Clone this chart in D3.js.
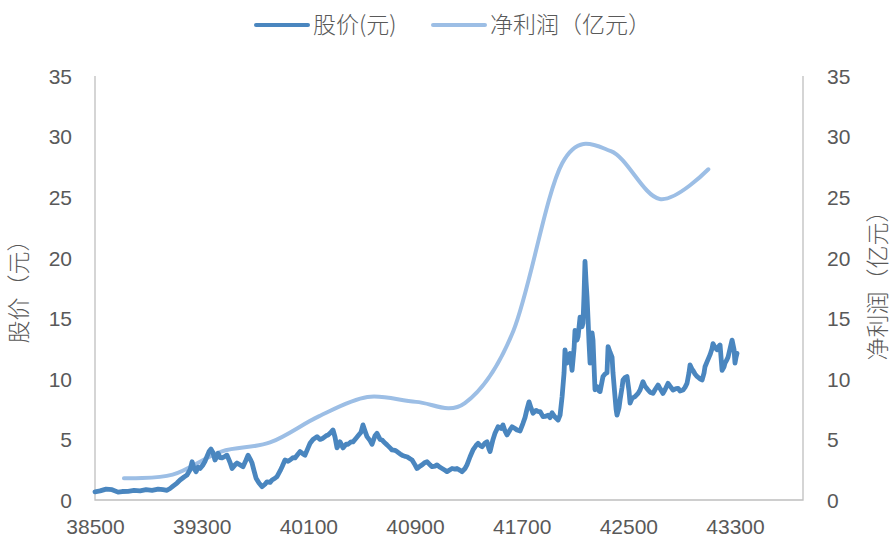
<!DOCTYPE html>
<html>
<head>
<meta charset="utf-8">
<script src="https://cdn.jsdelivr.net/npm/d3@7"></script>
<style>
  html, body { margin: 0; padding: 0; background: #fff; }
  svg { display: block; }
  .tick-label { font-family: "Liberation Sans", "DejaVu Sans", sans-serif; font-size: 21px; fill: #595959; }
  .cjk { font-family: "Noto Sans CJK SC", "Noto Sans", sans-serif; font-weight: 300; fill: #595959; }
</style>
</head>
<body>
<svg id="chart" width="895" height="541"></svg>
<script>
// Daily close, sampled (Excel date serial -> price in yuan)
const priceDates = [
  38500, 38538, 38583, 38628, 38673, 38703, 38748, 38793, 38838, 38883, 38928, 38973, 39010, 39040,
  39063, 39085, 39115, 39138, 39168, 39190, 39213, 39228, 39243, 39258, 39273, 39288, 39310, 39325,
  39340, 39355, 39370, 39385, 39400, 39415, 39423, 39438, 39453, 39475, 39490, 39513, 39528, 39550,
  39565, 39588, 39610, 39633, 39648, 39663, 39678, 39693, 39708, 39730, 39753, 39775, 39790, 39813,
  39828, 39850, 39865, 39888, 39903, 39925, 39948, 39963, 39985, 40000, 40023, 40038, 40060, 40075,
  40098, 40113, 40135, 40165, 40188, 40210, 40233, 40248, 40270, 40285, 40300, 40315, 40338, 40360,
  40383, 40398, 40420, 40435, 40458, 40473, 40495, 40510, 40525, 40540, 40563, 40578, 40600, 40615,
  40638, 40653, 40675, 40690, 40713, 40728, 40750, 40765, 40788, 40803, 40825, 40840, 40863, 40878,
  40900, 40915, 40938, 40953, 40975, 40990, 41013, 41028, 41050, 41065, 41088, 41103, 41125, 41140,
  41163, 41178, 41200, 41215, 41238, 41253, 41275, 41290, 41313, 41335, 41358, 41373, 41388, 41403,
  41425, 41440, 41455, 41463, 41485, 41500, 41523, 41545, 41560, 41575, 41590, 41613, 41628, 41650,
  41665, 41688, 41710, 41725, 41740, 41755, 41770, 41785, 41808, 41823, 41838, 41860, 41875, 41898,
  41913, 41928, 41950, 41973, 41988, 42003, 42018, 42025, 42040, 42048, 42063, 42078, 42093, 42100,
  42115, 42123, 42138, 42153, 42160, 42168, 42175, 42183, 42190, 42198, 42205, 42213, 42220, 42228,
  42235, 42243, 42250, 42265, 42280, 42288, 42303, 42310, 42325, 42340, 42348, 42363, 42378, 42385,
  42400, 42408, 42415, 42430, 42438, 42453, 42460, 42475, 42490, 42505, 42513, 42528, 42550, 42573,
  42588, 42610, 42625, 42648, 42663, 42685, 42700, 42723, 42738, 42760, 42775, 42798, 42813, 42835,
  42858, 42873, 42888, 42910, 42925, 42940, 42955, 42963, 42978, 42985, 43000, 43015, 43038, 43053,
  43068, 43075, 43090, 43113, 43128, 43135, 43150, 43165, 43180, 43188, 43203, 43218, 43225, 43240,
  43248, 43263, 43278, 43293, 43300, 43308, 43315
];
const priceValues = [
  0.68, 0.75, 0.9, 0.85, 0.65, 0.7, 0.72, 0.8, 0.75, 0.85, 0.8, 0.9, 0.85, 0.8,
  0.95, 1.15, 1.4, 1.65, 1.9, 2.06, 2.5, 3.16, 2.6, 2.34, 2.7, 2.6, 2.9, 3.2,
  3.6, 4.0, 4.2, 3.9, 3.3, 3.6, 3.86, 3.5, 3.47, 3.6, 3.7, 3.1, 2.6, 2.9,
  3.05, 2.9, 2.75, 3.3, 3.7, 3.4, 3.05, 2.4, 1.8, 1.4, 1.1, 1.3, 1.5, 1.45,
  1.65, 1.8, 1.93, 2.4, 2.75, 3.3, 3.2, 3.3, 3.5, 3.47, 3.8, 4.0, 3.8, 3.7,
  4.3, 4.68, 5.0, 5.23, 5.0, 5.1, 5.3, 5.37, 5.6, 5.78, 5.2, 4.3, 4.8, 4.3,
  4.6, 4.6, 4.8, 4.8, 5.1, 5.3, 5.6, 6.2, 5.7, 5.23, 4.9, 4.6, 5.3, 5.5,
  5.0, 4.95, 4.7, 4.55, 4.3, 4.13, 4.1, 4.0, 3.8, 3.7, 3.6, 3.57, 3.4, 3.3,
  2.9, 2.6, 2.8, 2.9, 3.1, 3.16, 2.9, 2.75, 2.8, 2.9, 2.7, 2.6, 2.45, 2.34,
  2.5, 2.6, 2.55, 2.6, 2.45, 2.34, 2.6, 2.9, 3.57, 4.13, 4.5, 4.68, 4.5, 4.4,
  4.7, 4.8, 4.2, 4.0, 5.0, 5.5, 6.05, 5.9, 6.2, 5.7, 5.37, 5.8, 6.05, 5.9,
  5.78, 5.7, 6.33, 6.8, 7.5, 8.1, 7.6, 7.16, 7.4, 7.3, 7.3, 6.88, 6.9, 7.0,
  6.8, 7.2, 6.85, 6.6, 7.0, 8.5, 10.5, 12.4, 11.3, 11.8, 12.1, 10.7, 12.5, 14.0,
  13.2, 13.5, 15.1, 14.3, 14.6, 17.0, 19.7, 18.0, 16.8, 14.9, 13.0, 11.3, 12.5, 13.8,
  13.2, 11.0, 9.1, 9.36, 9.0, 8.95, 9.8, 10.2, 10.4, 10.5, 12.66, 12.2, 11.8, 10.5,
  8.53, 7.5, 7.0, 7.6, 8.26, 9.3, 9.9, 10.1, 10.2, 9.0, 8.0, 8.4, 8.53, 8.8,
  9.08, 9.77, 9.4, 9.08, 8.9, 8.8, 9.1, 9.5, 9.2, 8.8, 9.1, 9.63, 9.4, 9.08,
  9.2, 9.22, 9.0, 9.08, 9.3, 9.63, 10.5, 11.15, 10.8, 10.7, 10.4, 10.2, 10.0, 9.9,
  10.5, 11.0, 11.4, 12.0, 12.5, 12.9, 12.6, 12.4, 12.7, 12.8, 10.7, 11.0, 11.3, 11.6,
  11.8, 12.5, 13.2, 12.4, 11.3, 11.8, 12.1
];

// Annual net profit at year end (100 million yuan)
const profitDates = [38717, 39082, 39447, 39813, 40178, 40543, 40908, 41274, 41639, 42004, 42369, 42735, 43100];
const profitValues = [1.8, 2.1, 4.0, 4.75, 6.9, 8.5, 8.1, 8.0, 14.0, 27.8, 28.8, 24.85, 27.3];

const xTicks = [38500, 39300, 40100, 40900, 41700, 42500, 43300];
const yTicks = [0, 5, 10, 15, 20, 25, 30, 35];

const seriesNames = ["股价(元)", "净利润（亿元）"];
const axisTitles = ["股价（元）", "净利润（亿元）"];

const priceColor = "#4a86bf";
const profitColor = "#9cbee5";
const axisColor = "#bfbfbf";

const svg = d3.select("#chart");
const plot = { left: 95, right: 803, top: 76, bottom: 500 };

const x = d3.scaleLinear().domain([38500, 43810]).range([plot.left, plot.right]);
const yL = d3.scaleLinear().domain([0, 35]).range([plot.bottom, plot.top]);
const yR = d3.scaleLinear().domain([0, 35]).range([plot.bottom, plot.top]);

// Axis frame: left, bottom and right lines
const frame = svg.append("g").attr("stroke", axisColor).attr("stroke-width", 1.3).attr("fill", "none");
frame.append("path").attr("d", `M${plot.left},${plot.top}V${plot.bottom}H${plot.right}V${plot.top}`);

// Left axis
const leftAxis = d3.axisLeft(yL).tickValues(yTicks).tickSize(0).tickPadding(23);
const gl = svg.append("g").attr("transform", `translate(${plot.left},0)`).call(leftAxis);
gl.select(".domain").remove();
gl.selectAll("text").attr("class", "tick-label").attr("dy", "0.35em");

// Right axis
const rightAxis = d3.axisRight(yR).tickValues(yTicks).tickSize(0).tickPadding(24);
const gr = svg.append("g").attr("transform", `translate(${plot.right},0)`).call(rightAxis);
gr.select(".domain").remove();
gr.selectAll("text").attr("class", "tick-label").attr("dy", "0.35em");

// Bottom axis
const bottomAxis = d3.axisBottom(x).tickValues(xTicks).tickFormat(d3.format("d")).tickSize(0).tickPadding(19);
const gb = svg.append("g").attr("transform", `translate(0,${plot.bottom})`).call(bottomAxis);
gb.select(".domain").remove();
gb.selectAll("text").attr("class", "tick-label").attr("dy", "0.71em");

// Axis titles
svg.append("text").attr("class", "cjk").attr("font-size", 23)
  .attr("text-anchor", "middle")
  .attr("transform", "translate(27,286) rotate(-90)")
  .text(axisTitles[0]);
svg.append("text").attr("class", "cjk").attr("font-size", 23)
  .attr("text-anchor", "middle")
  .attr("transform", "translate(886,280) rotate(-90)")
  .text(axisTitles[1]);

// Net profit: smoothed line through annual points
const profitData = profitDates.map((d, i) => [d, profitValues[i]]);
svg.append("path")
  .datum(profitData)
  .attr("fill", "none")
  .attr("stroke", profitColor)
  .attr("stroke-width", 4)
  .attr("stroke-linecap", "round")
  .attr("d", d3.line().x(d => x(d[0])).y(d => yR(d[1])).curve(d3.curveCatmullRom.alpha(0)));

// Share price line
const priceData = priceDates.map((d, i) => [d, priceValues[i]]);
svg.append("path")
  .datum(priceData)
  .attr("fill", "none")
  .attr("stroke", priceColor)
  .attr("stroke-width", 4.8)
  .attr("stroke-linejoin", "round")
  .attr("stroke-linecap", "round")
  .attr("d", d3.line().x(d => x(d[0])).y(d => yL(d[1])));

// Legend
const legend = svg.append("g");
const legendItems = [
  { name: seriesNames[0], color: priceColor, x0: 256 },
  { name: seriesNames[1], color: profitColor, x0: 433 }
];
legendItems.forEach(item => {
  legend.append("line")
    .attr("x1", item.x0).attr("x2", item.x0 + 52)
    .attr("y1", 25).attr("y2", 25)
    .attr("stroke", item.color).attr("stroke-width", 4).attr("stroke-linecap", "round");
  legend.append("text").attr("class", "cjk").attr("font-size", 23)
    .attr("x", item.x0 + 57).attr("y", 25).attr("dy", "0.36em")
    .text(item.name);
});
</script>
</body>
</html>
